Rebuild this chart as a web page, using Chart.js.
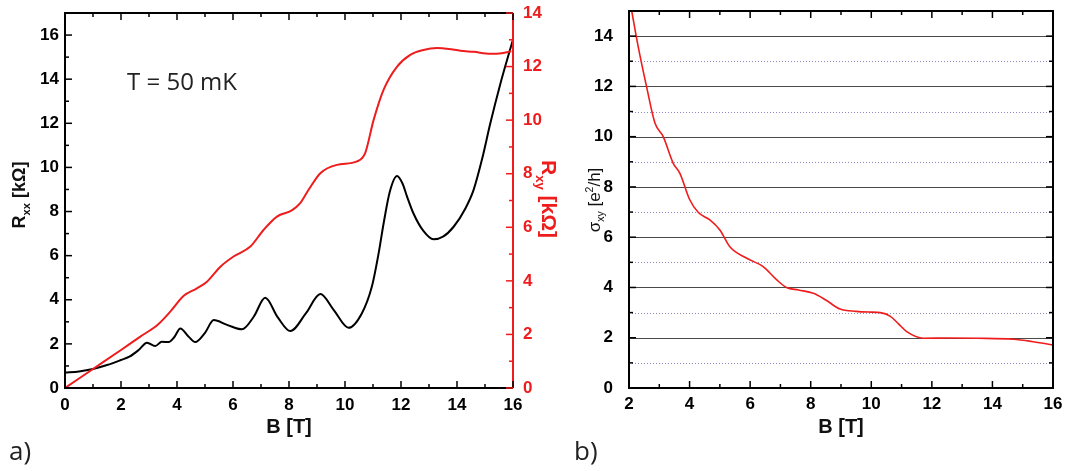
<!DOCTYPE html>
<html><head><meta charset="utf-8">
<script src="https://cdn.jsdelivr.net/npm/chart.js@4"></script>
<style>
html,body{margin:0;padding:0;background:#fff;width:1076px;height:471px;overflow:hidden;position:relative;font-family:"Liberation Sans",Arial,sans-serif}
#c1{position:absolute;left:0;top:0}
#c2{position:absolute;left:560px;top:0}
.t{position:absolute;white-space:nowrap;line-height:1}
sub,sup{font-size:62%;line-height:0}
</style></head><body>
<canvas id="c1" width="560" height="471"></canvas>
<canvas id="c2" width="516" height="471"></canvas>
<div class="t" id="tlab" style="left:127px;top:69px;font-family:'Open Sans';font-size:24px;color:#222">T = 50 mK</div>
<div class="t" id="xl1" style="left:289px;top:416px;transform:translateX(-50%);font-size:20px;font-weight:bold;color:#111">B [T]</div>
<div class="t" id="xl2" style="left:841px;top:416px;transform:translateX(-50%);font-size:20px;font-weight:bold;color:#111">B [T]</div>
<div class="t" id="yl1" style="left:19px;top:195px;transform:translate(-50%,-50%) rotate(-90deg);font-size:18px;font-weight:bold;color:#111">R<sub>xx</sub> [kΩ]</div>
<div class="t" id="yl2" style="left:549px;top:199px;transform:translate(-50%,-50%) rotate(90deg);font-size:21px;font-weight:bold;color:#ee1c1c">R<sub>xy</sub> [kΩ]</div>
<div class="t" id="yl3" style="left:594px;top:200px;transform:translate(-50%,-50%) rotate(-90deg);font-size:17px;color:#111">σ<sub>xy</sub> [e<sup>2</sup>/h]</div>
<div class="t" style="left:9px;top:437px;font-family:'Open Sans';font-size:26px;color:#222">a)</div>
<div class="t" style="left:574px;top:437px;font-family:'Open Sans';font-size:26px;color:#222">b)</div>
<script>
// ---- data ----
const bRxx = [0,0.5,1,1.5,2,2.3,2.63,2.93,3.22,3.46,3.7,3.9,4.12,4.4,4.65,5.0,5.31,5.79,6.32,6.74,7.15,7.6,8.05,8.6,9.12,9.6,10.13,10.6,10.96,11.2,11.38,11.6,11.86,12.05,12.21,12.45,12.8,13.16,13.5,13.88,14.3,14.59,14.9,15.19,15.54,16.0];
const rxx  = [0.7,0.75,0.86,1.04,1.27,1.42,1.72,2.05,1.9,2.1,2.08,2.3,2.7,2.35,2.08,2.5,3.08,2.86,2.66,3.23,4.09,3.2,2.58,3.38,4.26,3.53,2.73,3.38,4.6,6.1,7.47,8.9,9.61,9.28,8.7,7.9,7.12,6.74,6.86,7.31,8.14,8.97,10.4,12.0,13.75,15.8];
const bRxy = [0,1,2,2.69,3.3,3.76,4.24,4.71,5.07,5.55,6.02,6.62,7.09,7.57,8.1,8.4,8.7,9.12,9.71,10.43,10.72,11.02,11.38,11.86,12.33,12.8,13.29,13.7,14.12,14.6,15.19,15.6,15.94];
const rxy  = [0,0.71,1.42,1.92,2.35,2.85,3.44,3.72,3.97,4.53,4.91,5.28,5.9,6.4,6.63,6.9,7.4,8.02,8.33,8.46,8.77,10.0,11.14,12.0,12.44,12.62,12.69,12.66,12.59,12.55,12.48,12.5,12.57];
const bSig = [2.09,2.3,2.58,2.86,3.13,3.46,3.68,4.01,4.29,4.67,5.0,5.33,5.89,6.43,6.88,7.2,7.6,8.09,8.5,8.97,9.5,9.96,10.3,10.62,10.9,11.17,11.72,12.5,13.5,14.69,15.3,16.0];
const sig  = [15,13.6,11.99,10.53,10.0,8.94,8.54,7.48,6.98,6.69,6.29,5.62,5.16,4.83,4.3,4.0,3.9,3.77,3.5,3.14,3.05,3.02,3.0,2.86,2.55,2.24,1.98,1.99,1.98,1.94,1.85,1.71];
const xTicksA = [0,2,4,6,8,10,12,14,16];
const yTicksRxx = [0,2,4,6,8,10,12,14,16];
const yTicksRxy = [0,2,4,6,8,10,12,14];
const xTicksB = [2,4,6,8,10,12,14,16];
const yTicksSig = [0,2,4,6,8,10,12,14];

const RED = '#ee1c1c';
const pts = (xs, ys) => xs.map((x,i)=>({x, y: ys[i]}));
const tickFont = {family:'"Liberation Sans", Arial, sans-serif', size:17, weight:'bold'};
const evenLabel = list => v => list.includes(v) ? String(v) : '';
const noPad = s => { s.paddingTop = 0; s.paddingBottom = 0; s.paddingLeft = 0; s.paddingRight = 0; };

function drawTicks(ctx, scale, side, area, color, from, to){
  ctx.strokeStyle = color; ctx.lineWidth = 1.5; ctx.setLineDash([]);
  for(let v=from; v<=to; v++){
    const len = (v%2===0) ? 7 : 4;
    const p = scale.getPixelForValue(v);
    ctx.beginPath();
    if(side==='left'){ctx.moveTo(area.left,p);ctx.lineTo(area.left+len,p);}
    if(side==='right'){ctx.moveTo(area.right,p);ctx.lineTo(area.right-len,p);}
    if(side==='bottom'){ctx.moveTo(p,area.bottom);ctx.lineTo(p,area.bottom-len);}
    if(side==='top'){ctx.moveTo(p,area.top);ctx.lineTo(p,area.top+len);}
    ctx.stroke();
  }
}

const frame1 = {
  id:'frame1',
  afterDatasetsDraw(chart){
    const {ctx, chartArea:a, scales:{x,y,y1}} = chart;
    ctx.save();
    ctx.lineWidth = 2; ctx.strokeStyle = '#000';
    ctx.beginPath(); ctx.moveTo(a.right,a.top); ctx.lineTo(a.left,a.top); ctx.lineTo(a.left,a.bottom); ctx.lineTo(a.right,a.bottom); ctx.stroke();
    ctx.strokeStyle = RED; ctx.beginPath(); ctx.moveTo(a.right,a.top); ctx.lineTo(a.right,a.bottom); ctx.stroke();
    drawTicks(ctx,y,'left',a,'#000',0,17);
    drawTicks(ctx,x,'bottom',a,'#000',0,16);
    drawTicks(ctx,x,'top',a,'#000',0,16);
    drawTicks(ctx,y1,'right',a,RED,0,14);
    ctx.restore();
  }
};

const frame2 = {
  id:'frame2',
  beforeDatasetsDraw(chart){
    const {ctx, chartArea:a, scales:{y}} = chart;
    ctx.save();
    for(let v=1; v<15; v++){
      const py = Math.round(y.getPixelForValue(v))+0.5;
      ctx.beginPath();
      if(v%2===0){ctx.strokeStyle='#4a4a4a'; ctx.setLineDash([]);}
      else {ctx.strokeStyle='#8888c4'; ctx.setLineDash([1,2]);}
      ctx.lineWidth=1;
      ctx.moveTo(a.left,py); ctx.lineTo(a.right,py); ctx.stroke();
    }
    ctx.restore();
  },
  afterDatasetsDraw(chart){
    const {ctx, chartArea:a, scales:{x,y}} = chart;
    ctx.save();
    ctx.lineWidth = 2; ctx.strokeStyle = '#000';
    ctx.strokeRect(a.left,a.top,a.right-a.left,a.bottom-a.top);
    drawTicks(ctx,y,'left',a,'#000',0,15);
    drawTicks(ctx,y,'right',a,'#000',0,15);
    drawTicks(ctx,x,'bottom',a,'#000',2,16);
    drawTicks(ctx,x,'top',a,'#000',2,16);
    ctx.restore();
  }
};

const common = {
  responsive:false, animation:false,
  plugins:{legend:{display:false}, tooltip:{enabled:false}},
};
const noGrid = {display:false, drawTicks:false};

new Chart(document.getElementById('c1'), {
  type:'line',
  data:{datasets:[
    {data:pts(bRxy,rxy), yAxisID:'y1', borderColor:RED, borderWidth:2, pointRadius:0, cubicInterpolationMode:'monotone'},
    {data:pts(bRxx,rxx), yAxisID:'y', borderColor:'#000', borderWidth:2, pointRadius:0, cubicInterpolationMode:'monotone'}
  ]},
  options:{...common,
    layout:{padding:{top:13,left:0,right:0,bottom:0}},
    scales:{
      x:{type:'linear', min:0, max:16, grid:noGrid, border:{display:false},
         ticks:{stepSize:1, autoSkip:false, maxRotation:0, color:'#000', font:tickFont, padding:7, callback:evenLabel(xTicksA)},
         afterFit:s=>{s.height=83; noPad(s);}},
      y:{type:'linear', position:'left', min:0, max:17, grid:noGrid, border:{display:false},
         ticks:{stepSize:1, autoSkip:false, color:'#000', font:tickFont, padding:6, callback:evenLabel(yTicksRxx)},
         afterFit:s=>{s.width=65; noPad(s);}},
      y1:{type:'linear', position:'right', min:0, max:14, grid:noGrid, border:{display:false},
         ticks:{stepSize:1, autoSkip:false, color:RED, font:tickFont, padding:10, callback:evenLabel(yTicksRxy)},
         afterFit:s=>{s.width=47; noPad(s);}}
    }
  },
  plugins:[frame1]
});

new Chart(document.getElementById('c2'), {
  type:'line',
  data:{datasets:[
    {data:pts(bSig,sig), borderColor:RED, borderWidth:1.6, pointRadius:0, cubicInterpolationMode:'monotone'}
  ]},
  options:{...common,
    layout:{padding:{top:11,left:0,right:23,bottom:0}},
    scales:{
      x:{type:'linear', min:2, max:16, grid:noGrid, border:{display:false},
         ticks:{stepSize:1, autoSkip:false, maxRotation:0, color:'#000', font:tickFont, padding:6, callback:evenLabel(xTicksB)},
         afterFit:s=>{s.height=83; noPad(s);}},
      y:{type:'linear', min:0, max:15, grid:noGrid, border:{display:false},
         ticks:{stepSize:1, autoSkip:false, color:'#000', font:tickFont, padding:16, callback:evenLabel(yTicksSig)},
         afterFit:s=>{s.width=69; noPad(s);}}
    }
  },
  plugins:[frame2]
});
</script>
</body></html>
